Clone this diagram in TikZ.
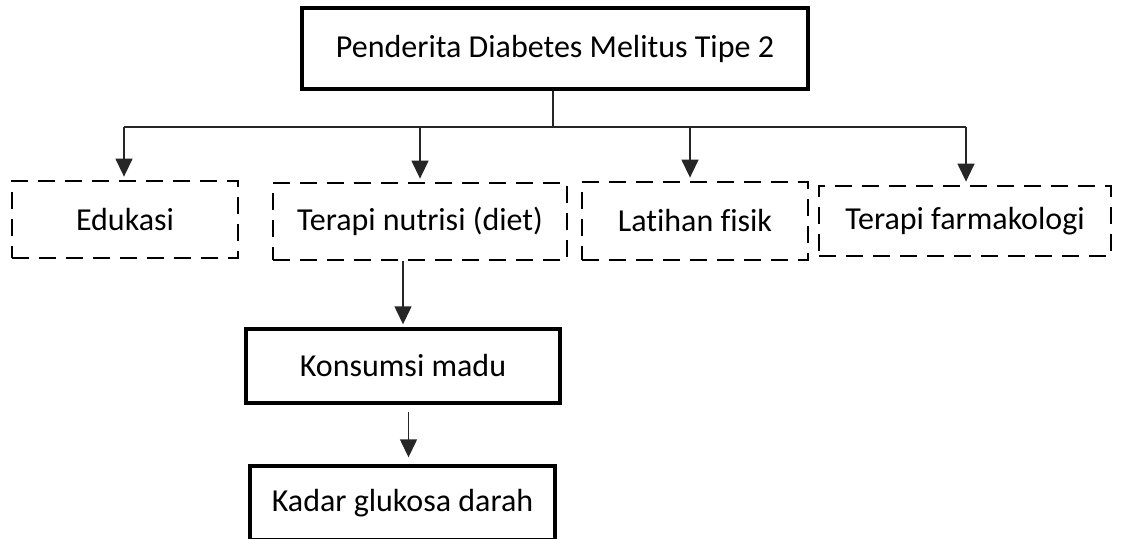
\documentclass[tikz,border=0pt]{standalone}
\usepackage{fontspec}
\setmainfont[Ligatures=NoCommon]{Carlito}
\usetikzlibrary{arrows.meta}

\begin{document}
\begin{tikzpicture}[x=1pt,y=-1pt,
  font=\fontsize{32}{38}\selectfont,
  mainbox/.style={draw=black,line width=3.4pt,inner sep=0pt},
  optbox/.style={draw=black,line width=2.8pt,dash pattern=on 17pt off 10pt,inner sep=0pt},
  conn/.style={draw=black!85,line width=1.4pt},
  arr/.style={conn,-{Triangle[length=18pt,width=17pt]},shorten >=3pt}]
\useasboundingbox (0,0) rectangle (1123,538);
% top box
\node[mainbox,minimum width=506pt,minimum height=81pt] (top) at (555,48.5) {Penderita Diabetes Melitus Tipe 2};
% options (dashed)
\node[optbox,minimum width=226pt,minimum height=77pt] (edu) at (125,219.5) {Edukasi};
\node[optbox,minimum width=294pt,minimum height=77pt] (nutri) at (420,221.5) {Terapi nutrisi (diet)};
\node[optbox,minimum width=226pt,minimum height=78pt] (latih) at (695,221) {Latihan fisik};
\node[optbox,minimum width=292pt,minimum height=70pt] (farma) at (965,221) {Terapi farmakologi};
% lower chain
\node[mainbox,minimum width=314pt,minimum height=74pt] (madu) at (403,366) {Konsumsi madu};
\node[mainbox,minimum width=305pt,minimum height=74pt] (gula) at (402.5,503) {Kadar glukosa darah};
% connectors
\coordinate (bar) at (553,127);
\draw[conn] (top.south -| bar) -- (bar);
\draw[conn] (124,127) coordinate (barL) -- (966,127) coordinate (barR);
\draw[arr] (barL) -- (edu.north -| barL);
\draw[arr] (nutri.north |- bar) -- (nutri.north);
\draw[arr] ([xshift=-5pt]latih.north |- bar) -- ([xshift=-5pt]latih.north);
\draw[arr] (barR) -- (farma.north -| barR);
\draw[arr] (madu.north |- nutri.south) -- (madu.north);
\draw[arr,shorten <=7pt,shorten >=7pt] ([xshift=6pt]gula.north |- madu.south) -- ([xshift=6pt]gula.north);
\end{tikzpicture}
\end{document}
